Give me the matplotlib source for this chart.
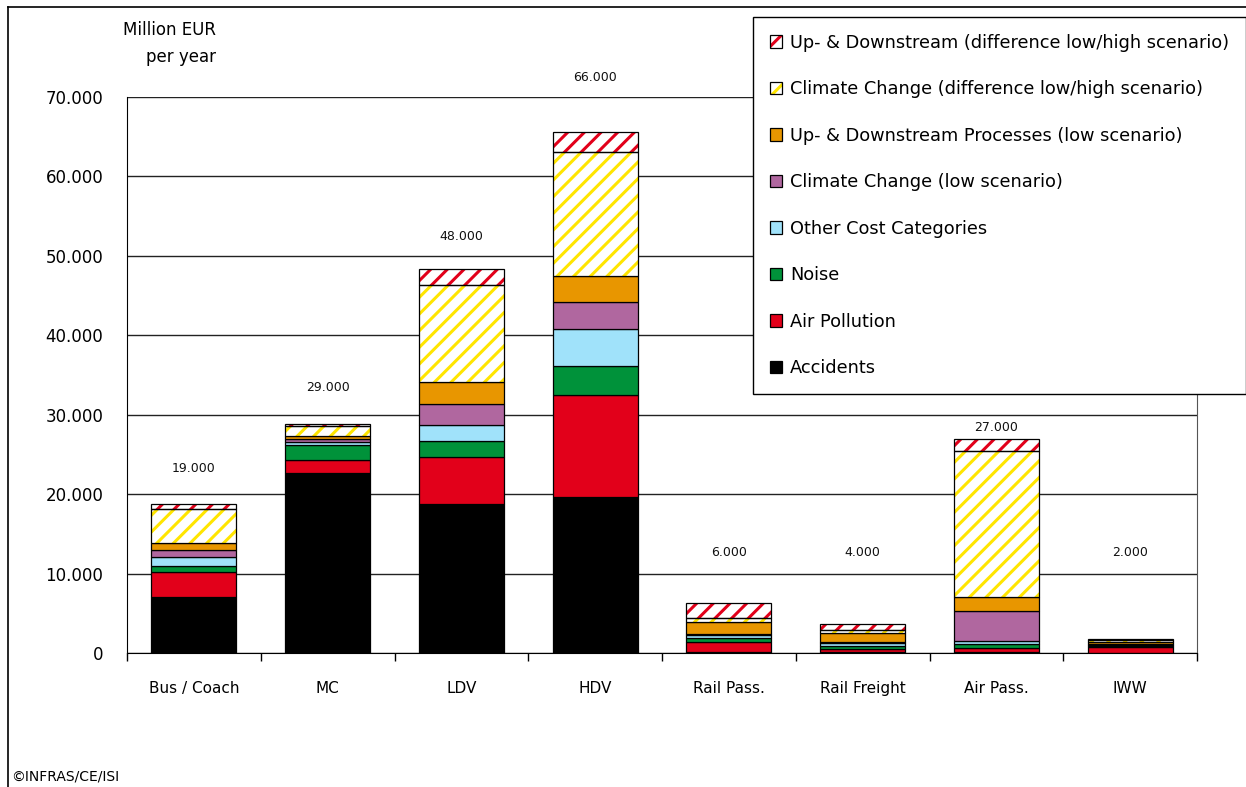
import matplotlib
matplotlib.use("Agg")
import matplotlib.pyplot as plt
from matplotlib.patches import Patch
from matplotlib.lines import Line2D
from matplotlib.ticker import FuncFormatter, FixedLocator
import numpy as np

# ---------------- data ----------------
categories = ['Bus / Coach', 'MC', 'LDV', 'HDV', 'Rail Pass.', 'Rail Freight', 'Air Pass.', 'IWW']
accidents = [7000, 22600, 18800, 19600, 100, 100, 80, 10]
air_pollution = [3150, 1700, 5900, 12850, 1300, 380, 500, 700]
noise = [850, 1950, 2000, 3650, 450, 380, 530, 150]
other_costs = [1100, 330, 2000, 4750, 400, 420, 400, 100]
climate_low = [850, 300, 2650, 3350, 100, 100, 3780, 200]
updown_low = [850, 420, 2800, 3300, 1600, 1100, 1800, 250]
climate_diff = [4300, 1250, 12150, 15600, 500, 420, 18380, 200]
updown_diff = [700, 250, 2000, 2450, 1850, 750, 1470, 150]
totals = [19000, 29000, 48000, 66000, 6000, 4000, 27000, 2000]

series_names = ['Accidents', 'Air Pollution', 'Noise', 'Other Cost Categories',
                'Climate Change (low scenario)', 'Up- & Downstream Processes (low scenario)',
                'Climate Change (difference low/high scenario)',
                'Up- & Downstream (difference low/high scenario)']

# ---------------- layout / style ----------------
label_y = [23200, 33400, 52500, 72400, 12600, 12600, 28450, 12600]
colors = ['#000000', '#E2001A', '#00923A', '#A0E2FA', '#B0679F', '#E89600', '#FFE500', '#E2001A']
hatched = [False, False, False, False, False, False, True, True]

plt.rcParams['font.family'] = ['DejaVu Sans']
plt.rcParams['hatch.linewidth'] = 2.2

W, H = 1246, 787
fig = plt.figure(figsize=(W / 100, H / 100), dpi=100)
ax = fig.add_axes([127 / W, 1 - 653 / H, (1197 - 127) / W, (653 - 97) / H])

series = [accidents, air_pollution, noise, other_costs, climate_low, updown_low,
          climate_diff, updown_diff]
x = np.arange(len(categories))
bw = 0.635
bottom = np.zeros(len(categories))
handles = []
for vals, col, hat, name in zip(series, colors, hatched, series_names):
    vals = np.array(vals, dtype=float)
    if hat:
        ax.bar(x, vals, bw, bottom=bottom, color='white', edgecolor=col, hatch='//',
               linewidth=0, zorder=2)
        ax.bar(x, vals, bw, bottom=bottom, fill=False, edgecolor='black',
               linewidth=0.9, zorder=3)
        h = (Patch(facecolor='white', edgecolor=col, hatch='//', linewidth=0),
             Patch(facecolor='none', edgecolor='black', linewidth=0.9))
    else:
        ax.bar(x, vals, bw, bottom=bottom, color=col, edgecolor='black',
               linewidth=0.9, zorder=2)
        h = Patch(facecolor=col, edgecolor='black', linewidth=0.9)
    handles.append(h)
    bottom += vals

# total labels
for xi, t, ly in zip(x, totals, label_y):
    ax.text(xi, ly, f"{t:,}".replace(',', '.'), ha='center', va='center',
            fontsize=9, color='#111111')

ax.set_xlim(-0.5, len(categories) - 0.5)
ax.set_ylim(0, 70000)
ax.set_yticks(np.arange(0, 70001, 10000))
ax.yaxis.set_major_formatter(FuncFormatter(lambda v, p: f"{int(v):,}".replace(',', '.')))
ax.tick_params(axis='y', length=0, pad=17, labelsize=12)
ax.set_xticks(x)
ax.set_xticklabels(categories, fontsize=11)
ax.xaxis.set_minor_locator(FixedLocator(np.arange(-0.5, len(categories), 1.0)))
ax.tick_params(axis='x', which='major', length=0, pad=20)
ax.tick_params(axis='x', which='minor', length=6, width=1, direction='out', color='black')
ax.yaxis.grid(True, color='#222222', linewidth=1)
ax.set_axisbelow(True)
ax.spines['top'].set_visible(False)
ax.spines['right'].set_color('#555555')
ax.spines['left'].set_color('black')
ax.spines['bottom'].set_color('black')

# y-axis unit text
fig.text(216 / W, 1 - 30 / H, 'Million EUR', ha='right', va='center', fontsize=12)
fig.text(216 / W, 1 - 57 / H, 'per year', ha='right', va='center', fontsize=12)

# legend
leg = fig.legend(handles[::-1], series_names[::-1], loc='upper left',
                 bbox_to_anchor=(753 / W, 1 - 17 / H), bbox_transform=fig.transFigure,
                 fontsize=12.8, frameon=True, fancybox=False, framealpha=1,
                 edgecolor='black', handlelength=0.7, handleheight=0.7,
                 handletextpad=0.42, labelspacing=1.6, borderpad=0.95,
                 borderaxespad=0)
leg.get_frame().set_linewidth(1.0)

# outer frame
fig.add_artist(Line2D([8 / W, 8 / W], [0, 1 - 7 / H], transform=fig.transFigure,
                      color='black', linewidth=1.2))
fig.add_artist(Line2D([8 / W, 1], [1 - 7 / H, 1 - 7 / H], transform=fig.transFigure,
                      color='black', linewidth=1.2))

fig.text(11 / W, 3 / H, '©INFRAS/CE/ISI', ha='left', va='bottom', fontsize=10)

fig.savefig('out.png', dpi=100)
